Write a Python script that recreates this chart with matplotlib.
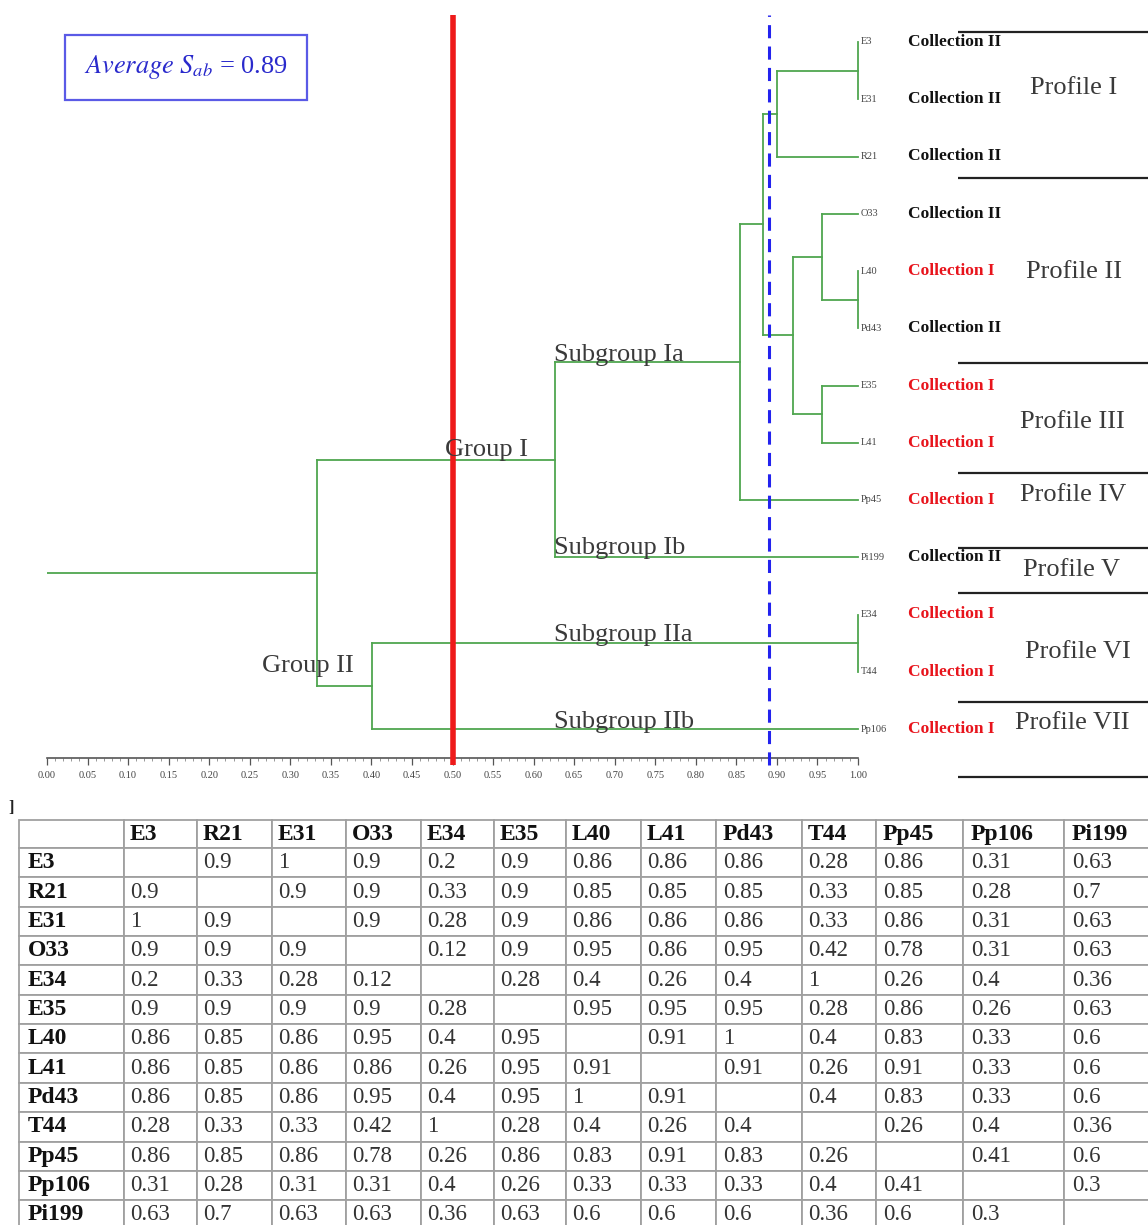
import matplotlib
matplotlib.use("Agg")
import matplotlib.pyplot as plt
from matplotlib.patches import Rectangle
from matplotlib.ticker import FixedLocator

plt.rcParams['font.family'] = ['Liberation Serif', 'DejaVu Serif']
plt.rcParams['mathtext.fontset'] = 'stix'

# ---------------- data ----------------
leaf_order = ["E3", "E31", "R21", "O33", "L40", "Pd43", "E35", "L41",
              "Pp45", "Pi199", "E34", "T44", "Pp106"]
leaf_collection = ["II", "II", "II", "II", "I", "II", "I", "I",
                   "I", "II", "I", "I", "I"]
# merges: child a, child b (str = leaf, int = earlier merge), similarity
merge_a = ["E3", 0, "L40", "O33", "E35", 3, 1, 6, 7, "E34", 9, 8]
merge_b = ["E31", "R21", "Pd43", 2, "L41", 4, 5, "Pp45", "Pi199", "T44", "Pp106", 10]
merge_sim = [1.00, 0.90, 1.00, 0.956, 0.956, 0.92, 0.883, 0.855, 0.626, 1.00, 0.401, 0.333]

average_sab = 0.89
cut_group = 0.50
cut_profile = 0.89

profile_names = ["Profile I", "Profile II", "Profile III", "Profile IV",
                 "Profile V", "Profile VI", "Profile VII"]
group_labels = ["Group I", "Group II", "Subgroup Ia", "Subgroup Ib",
                "Subgroup IIa", "Subgroup IIb"]

table_labels = ["E3", "R21", "E31", "O33", "E34", "E35", "L40", "L41",
                "Pd43", "T44", "Pp45", "Pp106", "Pi199"]
sim_matrix = [
    [None, 0.9, 1, 0.9, 0.2, 0.9, 0.86, 0.86, 0.86, 0.28, 0.86, 0.31, 0.63],
    [0.9, None, 0.9, 0.9, 0.33, 0.9, 0.85, 0.85, 0.85, 0.33, 0.85, 0.28, 0.7],
    [1, 0.9, None, 0.9, 0.28, 0.9, 0.86, 0.86, 0.86, 0.33, 0.86, 0.31, 0.63],
    [0.9, 0.9, 0.9, None, 0.12, 0.9, 0.95, 0.86, 0.95, 0.42, 0.78, 0.31, 0.63],
    [0.2, 0.33, 0.28, 0.12, None, 0.28, 0.4, 0.26, 0.4, 1, 0.26, 0.4, 0.36],
    [0.9, 0.9, 0.9, 0.9, 0.28, None, 0.95, 0.95, 0.95, 0.28, 0.86, 0.26, 0.63],
    [0.86, 0.85, 0.86, 0.95, 0.4, 0.95, None, 0.91, 1, 0.4, 0.83, 0.33, 0.6],
    [0.86, 0.85, 0.86, 0.86, 0.26, 0.95, 0.91, None, 0.91, 0.26, 0.91, 0.33, 0.6],
    [0.86, 0.85, 0.86, 0.95, 0.4, 0.95, 1, 0.91, None, 0.4, 0.83, 0.33, 0.6],
    [0.28, 0.33, 0.33, 0.42, 1, 0.28, 0.4, 0.26, 0.4, None, 0.26, 0.4, 0.36],
    [0.86, 0.85, 0.86, 0.78, 0.26, 0.86, 0.83, 0.91, 0.83, 0.26, None, 0.41, 0.6],
    [0.31, 0.28, 0.31, 0.31, 0.4, 0.26, 0.33, 0.33, 0.33, 0.4, 0.41, None, 0.3],
    [0.63, 0.7, 0.63, 0.63, 0.36, 0.63, 0.6, 0.6, 0.6, 0.36, 0.6, 0.3, None],
]

# ---------------- layout ----------------
W, H = 1148, 1225
X0, XS = 47.0, 811.0       # pixel of similarity 0, pixels per unit
Y0, YS = 42.0, 57.25       # pixel of first leaf, pixels per leaf


def dx(px):
    return (px - X0) / XS


def dy(py):
    return (py - Y0) / YS


GREEN = '#4fa64f'
LW = 1.3

fig = plt.figure(figsize=(W / 100, H / 100), dpi=100)
ax = fig.add_axes([X0 / W, 1 - 758 / H, (W - X0) / W, (758 - 15) / H])
ax.set_xlim(0, dx(W))
ax.set_ylim(dy(758), dy(15))

# dendrogram
pos = {name: (1.0, i) for i, name in enumerate(leaf_order)}
mpos = []


def get(k):
    return pos[k] if isinstance(k, str) else mpos[k]


for a, b, s in zip(merge_a, merge_b, merge_sim):
    xa, ya = get(a)
    xb, yb = get(b)
    ax.plot([xa, s], [ya, ya], color=GREEN, lw=LW, zorder=2)
    ax.plot([xb, s], [yb, yb], color=GREEN, lw=LW, zorder=2)
    ax.plot([s, s], [ya, yb], color=GREEN, lw=LW, zorder=2)
    mpos.append((s, (ya + yb) / 2))
rx, ry = mpos[-1]
ax.plot([0, rx], [ry, ry], color=GREEN, lw=LW, zorder=2)

# cut lines
ax.plot([cut_group, cut_group], [dy(765), dy(15)], color='#ee1a1a', lw=4.0,
        zorder=3, clip_on=False, solid_capstyle='butt')
ax.plot([cut_profile, cut_profile], [dy(765), dy(15)], color='#2323ee', lw=2.2,
        zorder=3, clip_on=False, dashes=(4.3, 2.7), dash_capstyle='butt')

# leaf / collection labels
for i, (name, col) in enumerate(zip(leaf_order, leaf_collection)):
    ax.text(dx(861), i, name, fontsize=7.5, color='#444444', va='center',
            ha='left', zorder=4)
    ax.text(dx(908), i, "Collection " + col, fontsize=12.5, fontweight='bold',
            color='#111111' if col == "II" else '#e8141c', va='center',
            ha='left', zorder=4)

# group labels
group_px = [(445, 456), (262, 672), (554, 361), (554, 554), (554, 641), (554, 728)]
for lab, (px, py) in zip(group_labels, group_px):
    ax.text(dx(px), dy(py), lab, fontsize=19, color='#3a3a3a', ha='left',
            va='baseline', zorder=4)

# profile labels and separators
profile_px = [(1030, 88), (1026, 272), (1020, 422), (1020, 495), (1023, 570),
              (1025, 652), (1015, 723)]
for lab, (px, py) in zip(profile_names, profile_px):
    ax.text(dx(px), dy(py), lab, fontsize=19, color='#3a3a3a', ha='left',
            va='center', zorder=4)
for py in [32, 178, 363, 473, 548, 593, 702, 777]:
    ax.plot([dx(958), dx(W)], [dy(py), dy(py)], color='#222222', lw=1.6,
            clip_on=False, solid_capstyle='butt')

# axis ruler
for sp in ['top', 'left', 'right']:
    ax.spines[sp].set_visible(False)
ax.spines['bottom'].set_bounds(0, 1)
ax.spines['bottom'].set_color('#555555')
ax.spines['bottom'].set_linewidth(1.2)
ax.set_yticks([])
major = [round(0.05 * k, 2) for k in range(21)]
ax.xaxis.set_major_locator(FixedLocator(major))
ax.xaxis.set_minor_locator(FixedLocator([k / 100 for k in range(101) if k % 5]))
ax.set_xticklabels([f"{t:.2f}" for t in major])
ax.tick_params(axis='x', which='major', direction='out', length=5, width=0.9,
               color='#555555', labelsize=7.5, labelcolor='#444444', pad=4.5)
ax.tick_params(axis='x', which='minor', direction='out', length=2, width=0.6,
               color='#888888')
ax.set_xlim(0, dx(W))

# average box
fig.patches.append(Rectangle((65 / W, 1 - 100 / H), 242 / W, 65 / H,
                             transform=fig.transFigure, fill=True,
                             facecolor='white', edgecolor='#5a5ae6', lw=1.6,
                             zorder=5))
fig.text(186 / W, 1 - 67 / H,
         r"$\mathit{Average\ S_{ab}}$" + f" = {average_sab:.2f}",
         fontsize=19, color='#2a2acc', ha='center', va='center', zorder=6)

# ---------------- table ----------------
fig.text(8 / W, 1 - 808 / H, "]", fontsize=12, fontweight='bold',
         color='#222222', va='center')
TOP, HDR, ROW = 820, 28, 29.35
TH = HDR + 13 * ROW
tax = fig.add_axes([19 / W, 1 - (TOP + TH) / H, 1141 / W, TH / H])
tax.axis('off')
grid = [[""] + table_labels]
for lab, row in zip(table_labels, sim_matrix):
    grid.append([lab] + ["" if v is None else f"{v:g}" for v in row])
tbl = tax.table(cellText=grid, cellLoc='left', bbox=[0, 0, 1, 1])
tbl.auto_set_font_size(False)
colw = [105, 73, 75, 74, 75, 73, 72, 75, 75, 86, 74, 87, 101, 96]
rowh = [HDR] + [ROW] * 13
for (r, c), cell in tbl.get_celld().items():
    cell.set_width(colw[c] / 1141)
    cell.set_height(rowh[r] / TH)
    cell.set_edgecolor('#a0a0a0')
    cell.set_linewidth(1.3)
    cell.PAD = 0.08
    t = cell.get_text()
    if r == 0 or c == 0:
        t.set_fontsize(17)
        t.set_fontweight('bold')
        t.set_color('#111111')
    else:
        t.set_fontsize(16.5)
        t.set_color('#333333')

fig.savefig("out.png", dpi=100)
